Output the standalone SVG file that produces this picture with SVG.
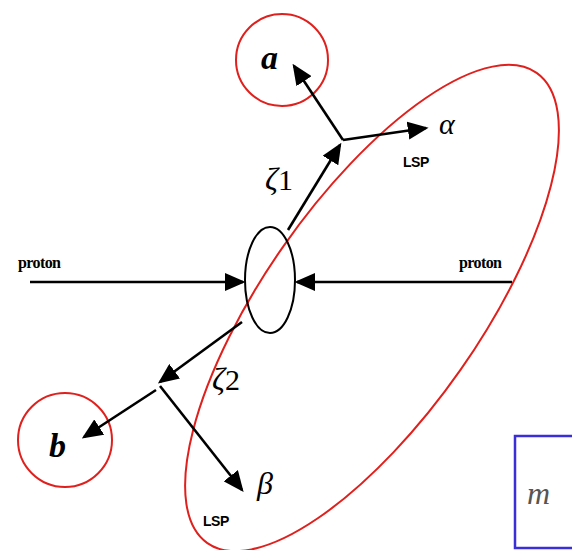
<svg xmlns="http://www.w3.org/2000/svg" width="572" height="550" viewBox="0 0 572 550">
<style>
.red{fill:none;stroke:#e0201c;stroke-width:2}
.ln{stroke:#000;stroke-width:2.6;fill:none}
.math{font-family:"Liberation Serif","DejaVu Serif",serif;font-style:italic;fill:#000}
.lsp{font-family:"Liberation Sans",Arial,sans-serif;font-weight:bold;font-size:14px;fill:#000;letter-spacing:-0.5px}
.pr{font-family:"Liberation Serif",serif;font-weight:bold;font-size:16px;fill:#000;letter-spacing:-0.6px}
</style>
<defs>
<marker id="ah" markerWidth="8" markerHeight="7" refX="7" refY="3.5" orient="auto" markerUnits="strokeWidth">
<path d="M0,0 L8,3.5 L0,7 Z" fill="#000"/>
</marker>
</defs>
<rect width="572" height="550" fill="#fff"/>
<g id="big-ellipse"><ellipse class="red" cx="372" cy="308" rx="287" ry="108" transform="rotate(-55 372 308)"/></g>
<g id="node-a"><circle class="red" cx="282" cy="60" r="46"/><text class="math" x="261" y="69" font-size="34" font-weight="bold">a</text></g>
<g id="node-b"><circle class="red" cx="65" cy="440" r="47"/><text class="math" x="49" y="457" font-size="34" font-weight="bold">b</text></g>
<g id="collision"><ellipse cx="270" cy="280" rx="25" ry="53" fill="none" stroke="#000" stroke-width="2"/></g>
<g id="box"><rect x="515" y="436" width="70" height="112" fill="none" stroke="#3a2ed8" stroke-width="2.5"/><text class="math" x="527" y="504" font-size="32" style="fill:#555">m</text></g>
<g id="connectors">
<line class="ln" x1="30" y1="282" x2="243" y2="282" marker-end="url(#ah)"/>
<line class="ln" x1="512" y1="282" x2="297" y2="282" marker-end="url(#ah)"/>
<line class="ln" x1="288" y1="230" x2="340" y2="145" marker-end="url(#ah)"/>
<line class="ln" x1="343" y1="140" x2="294" y2="66" marker-end="url(#ah)"/>
<line class="ln" x1="343" y1="140" x2="426" y2="128" marker-end="url(#ah)"/>
<line class="ln" x1="242" y1="322" x2="160" y2="382" marker-end="url(#ah)"/>
<line class="ln" x1="156" y1="390" x2="84" y2="437" marker-end="url(#ah)"/>
<line class="ln" x1="160" y1="386" x2="242" y2="490" marker-end="url(#ah)"/>
</g>
<g id="labels">
<text class="pr" x="18" y="268">proton</text>
<text class="pr" x="459" y="268">proton</text>
<text class="math" x="439" y="134" font-size="30">α</text>
<text class="lsp" x="403" y="167">LSP</text>
<text class="math" x="265" y="190" font-size="32">ζ<tspan font-style="normal" font-size="30">1</tspan></text>
<text class="math" x="212" y="390" font-size="32">ζ<tspan font-style="normal" font-size="30">2</tspan></text>
<text class="math" x="257" y="494" font-size="32">β</text>
<text class="lsp" x="203" y="526">LSP</text>
</g>
</svg>
